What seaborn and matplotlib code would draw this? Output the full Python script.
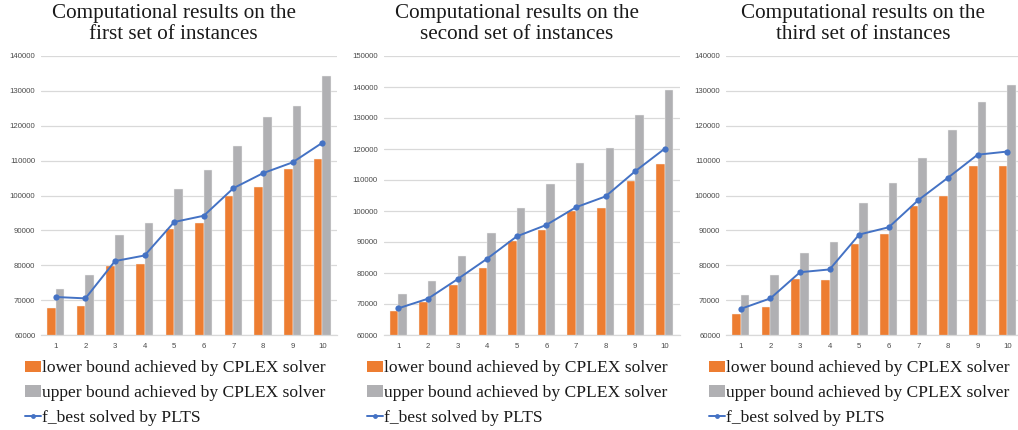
import numpy as np
import pandas as pd
import matplotlib
matplotlib.use("Agg")
import matplotlib.pyplot as plt
import seaborn as sns
from matplotlib.patches import Patch
from matplotlib.lines import Line2D

instances = [str(i) for i in range(1, 11)]

lower_1 = [67700, 68200, 79900, 80300, 90500, 92200, 100000, 102300, 107700, 110600]
upper_1 = [73300, 77300, 88800, 92200, 102000, 107200, 114100, 122500, 125700, 134300]
fbest_1 = [70900, 70500, 81200, 82800, 92400, 94200, 102100, 106400, 109500, 115100]

lower_2 = [67700, 70800, 76200, 81600, 90300, 93900, 100000, 100900, 109800, 115100]
upper_2 = [73300, 77300, 85500, 93000, 101100, 108600, 115500, 120300, 131000, 138900]
fbest_2 = [68600, 71700, 78000, 84600, 91800, 95500, 101200, 104700, 112800, 120100]

lower_3 = [66100, 68100, 76000, 75800, 86100, 88900, 97000, 99900, 108600, 108600]
upper_3 = [71500, 77200, 83500, 86800, 97800, 103500, 110700, 118900, 126700, 131800]
fbest_3 = [67500, 70500, 78000, 78800, 88800, 90900, 98700, 105100, 111700, 112600]

titles = ["Computational results on the\nfirst set of instances",
          "Computational results on the\nsecond set of instances",
          "Computational results on the\nthird set of instances"]
series_names = ["lower bound achieved by CPLEX solver",
                "upper bound achieved by CPLEX solver",
                "f_best solved by PLTS"]
y_tops = [140000, 150000, 140000]

ORANGE = "#ED7D31"
GRAY = "#B0B0B3"
BLUE = "#4472C4"

sns.set_theme(style="white")
plt.rcParams["font.family"] = ["Liberation Sans", "DejaVu Sans"]

W, H = 1018, 430
fig = plt.figure(figsize=(W / 100, H / 100), dpi=100)

panels = [(lower_1, upper_1, fbest_1), (lower_2, upper_2, fbest_2), (lower_3, upper_3, fbest_3)]
ax_lefts = [41, 383.5, 726]
ax_width = 296
ax_top, ax_bot = 56, 335
title_x = [173.5, 517, 863]
legend_x = [25, 367, 709]

for k, (lo, up, fb) in enumerate(panels):
    ax = fig.add_axes([ax_lefts[k] / W, 1 - ax_bot / H, ax_width / W, (ax_bot - ax_top) / H])
    df = pd.DataFrame({
        "instance": instances * 2,
        "value": lo + up,
        "series": [series_names[0]] * 10 + [series_names[1]] * 10,
    })
    sns.barplot(data=df, x="instance", y="value", hue="series", ax=ax,
                palette=[ORANGE, GRAY], saturation=1, width=0.58, gap=0.0,
                edgecolor="#f4f4f4", linewidth=0.3, legend=False, zorder=2)
    sns.lineplot(x=np.arange(10), y=fb, ax=ax, color=BLUE, linewidth=1.4,
                 marker="o", markersize=4.5, markeredgewidth=0, zorder=3)
    ax.set_ylim(60000, y_tops[k])
    ax.set_xlim(-0.5, 9.5)
    ax.set_yticks(np.arange(60000, y_tops[k] + 1, 10000))
    ax.yaxis.grid(True, color="#D9D9D9", linewidth=0.9, zorder=0)
    ax.set_axisbelow(True)
    for s in ["top", "right", "left"]:
        ax.spines[s].set_visible(False)
    ax.spines["bottom"].set_color("#D9D9D9")
    ax.spines["bottom"].set_linewidth(0.9)
    ax.tick_params(axis="both", length=0, labelsize=5.6, labelcolor="#4a4a4a")
    ax.tick_params(axis="y", pad=4)
    ax.tick_params(axis="x", pad=5.5)
    ax.set_xlabel("")
    ax.set_ylabel("")

    fig.text(title_x[k] / W, 1 - 4 / H, titles[k], ha="center", va="top",
             fontsize=15.2, family=["Liberation Serif"], color="#1a1a1a",
             linespacing=1.13)

    handles = [Patch(facecolor=ORANGE, edgecolor="none"),
               Patch(facecolor=GRAY, edgecolor="none"),
               Line2D([0], [0], color=BLUE, linewidth=1.4, marker="o", markersize=3.5,
                      markeredgewidth=0)]
    fig.legend(handles, series_names, loc="upper left",
               bbox_to_anchor=(legend_x[k] / W, 1 - 360.5 / H),
               frameon=False, borderpad=0, borderaxespad=0,
               handlelength=0.9, handleheight=0.62, handletextpad=0.05,
               labelspacing=0.5,
               prop={"family": "Liberation Serif", "size": 12.6},
               labelcolor="#1a1a1a")

fig.savefig("out.png", dpi=100)
